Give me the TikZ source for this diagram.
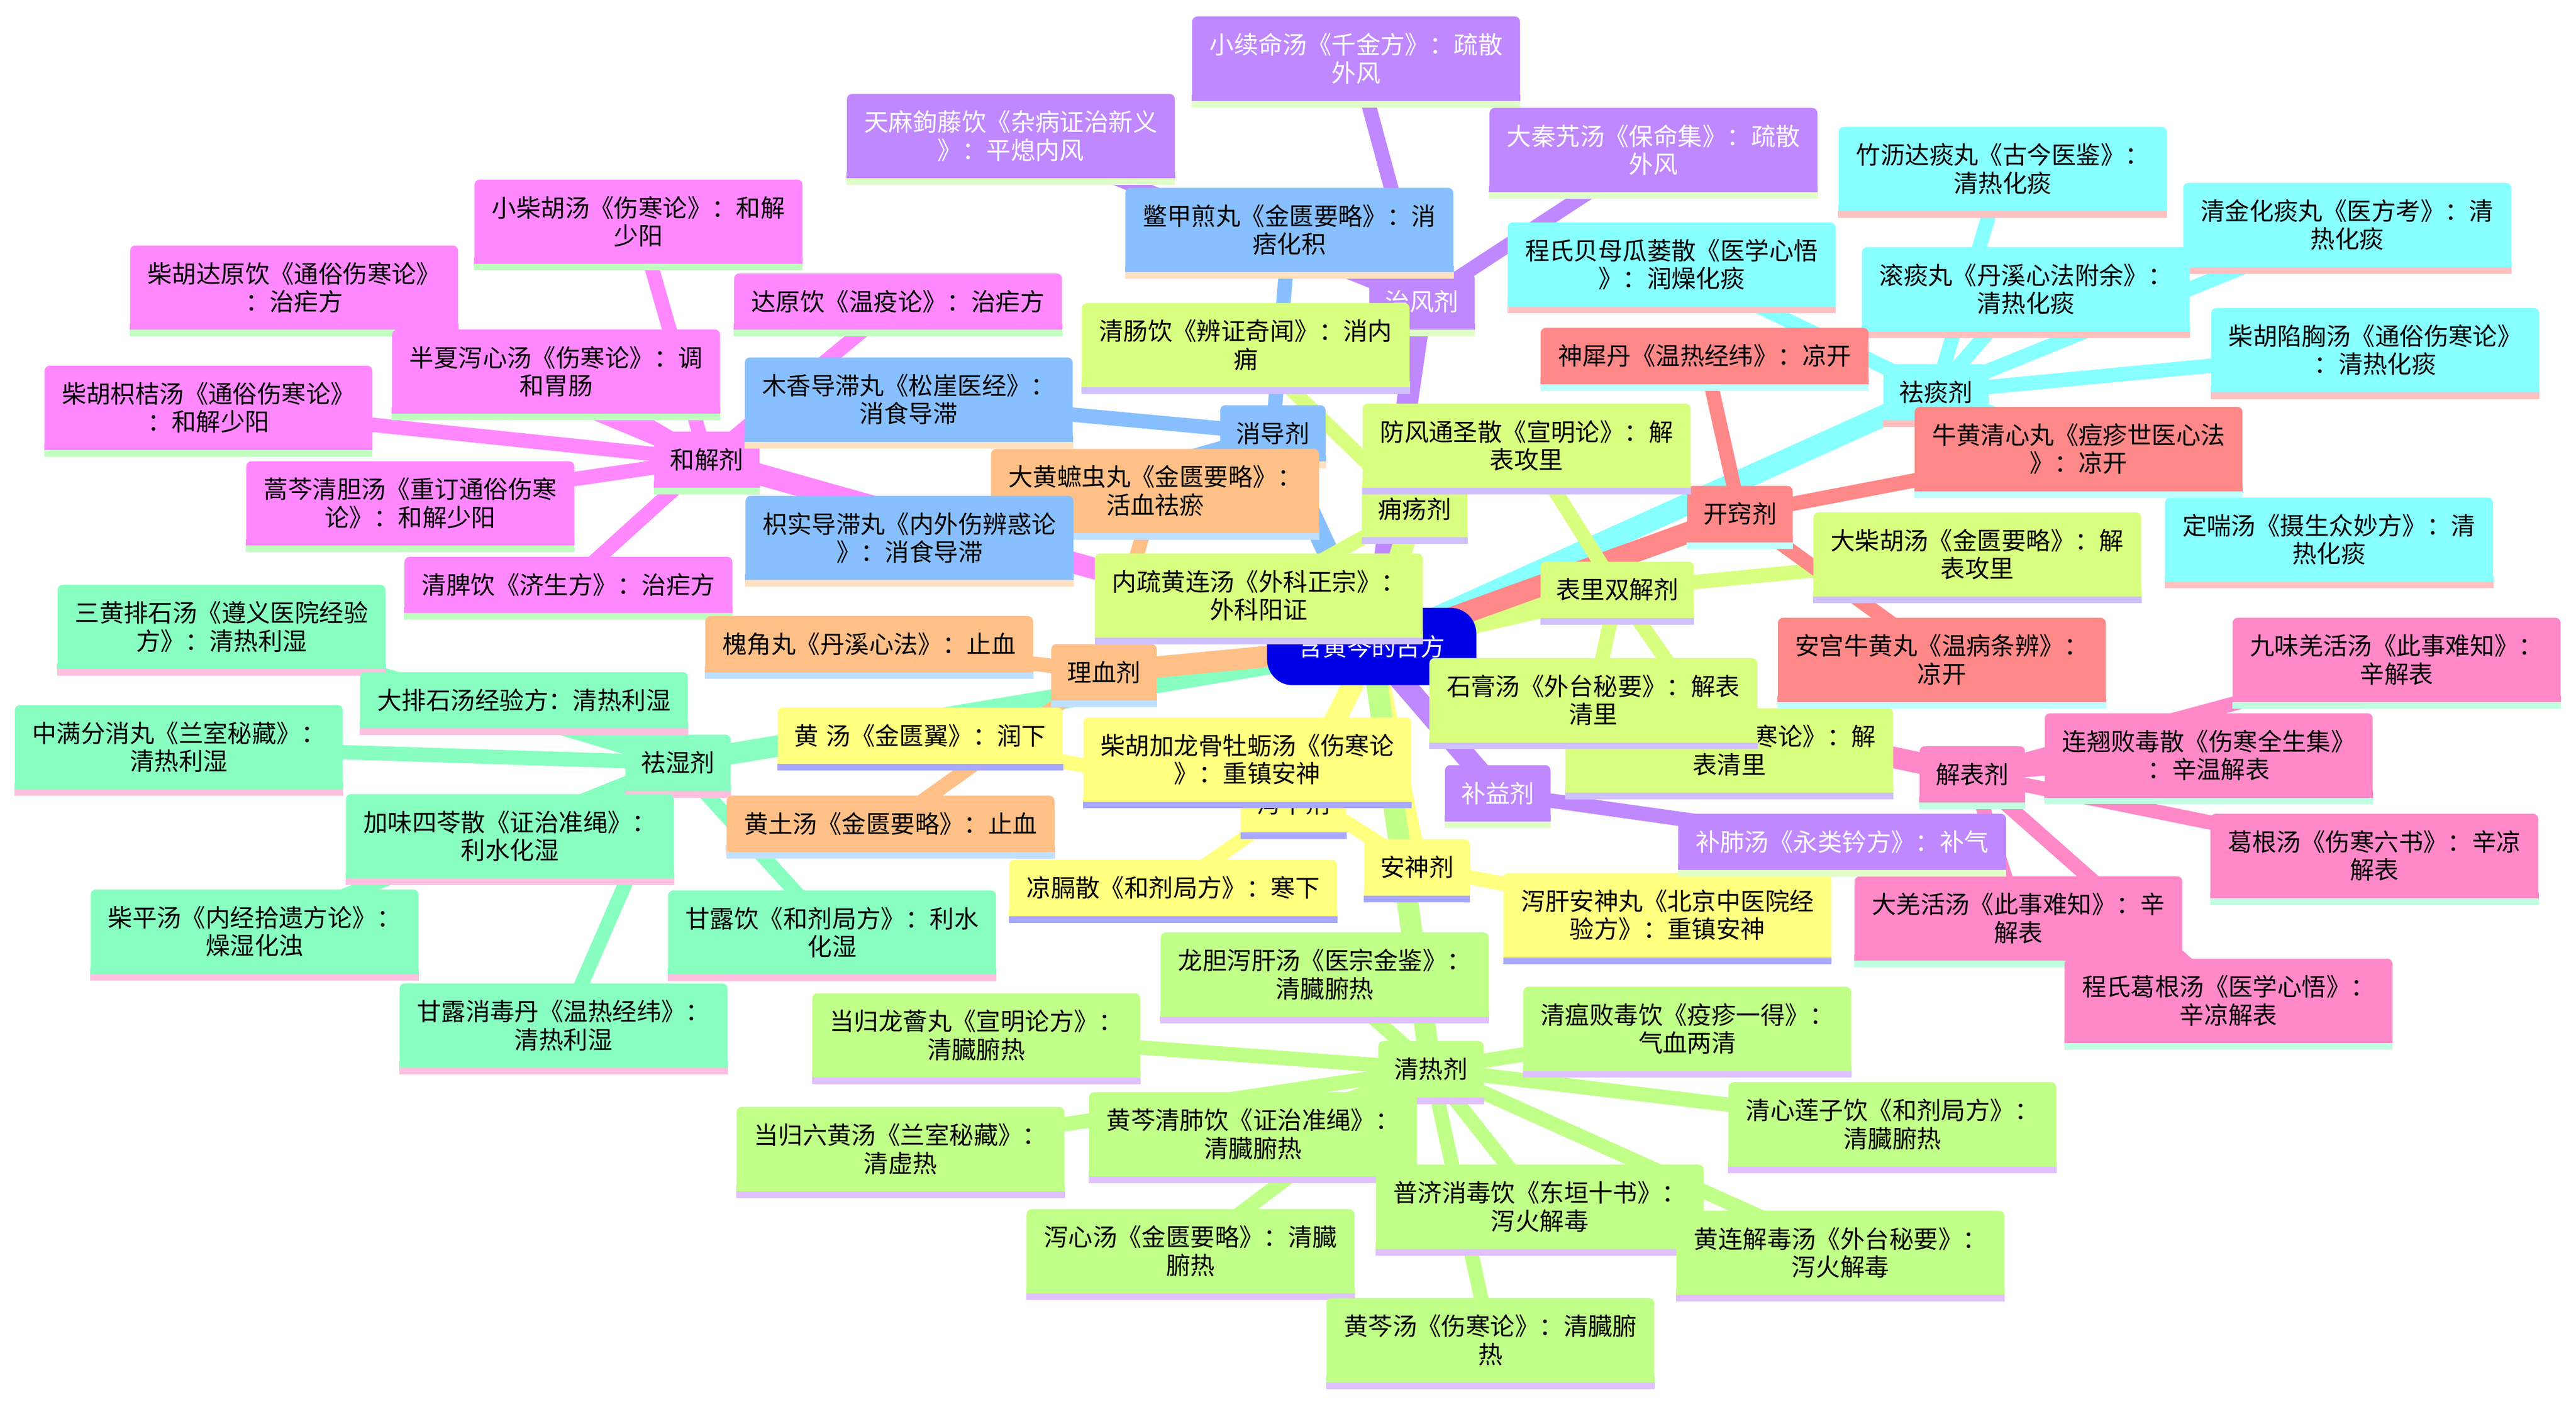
\documentclass[tikz,border=0pt]{standalone}
\usepackage{fontspec}
\setmainfont{Noto Sans CJK SC}
\pgfdeclarelayer{bg}
\pgfsetlayers{bg,main}
\definecolor{cRoot}{HTML}{0000E6}
\definecolor{cFeng}{HTML}{C088FF}\definecolor{sFeng}{HTML}{E0FFC8}
\definecolor{cXiao}{HTML}{88C0FF}\definecolor{sXiao}{HTML}{FFE0C0}
\definecolor{cHejie}{HTML}{FF88FF}\definecolor{sHejie}{HTML}{C0FFC0}
\definecolor{cShi}{HTML}{88FFC0}\definecolor{sShi}{HTML}{FFC0E0}
\definecolor{cXue}{HTML}{FFC088}\definecolor{sXue}{HTML}{C0E0FF}
\definecolor{cXia}{HTML}{FFFF80}\definecolor{sXia}{HTML}{A8A8FF}
\definecolor{cYong}{HTML}{D8FF80}\definecolor{sYong}{HTML}{D0C0FF}
\definecolor{cQing}{HTML}{C0FF88}\definecolor{sQing}{HTML}{E0C0FF}
\definecolor{cTan}{HTML}{88FFFF}\definecolor{sTan}{HTML}{FFC0C0}
\definecolor{cQiao}{HTML}{FF8888}\definecolor{sQiao}{HTML}{C0FFFF}
\definecolor{cBiao}{HTML}{FF88C8}\definecolor{sBiao}{HTML}{C0FFE0}
\tikzset{
  box/.style 2 args={rectangle, rounded corners=1mm, fill=#1,
    append after command={\pgfextra{
      \fill[#1, sharp corners] (\tikzlastnode.south west) rectangle ([yshift=1.2mm]\tikzlastnode.south east);
      \fill[#2, sharp corners] (\tikzlastnode.south west) rectangle ([yshift=-1.28mm]\tikzlastnode.south east);}}},
  leaf/.style={minimum width=63.68mm, minimum height=16.32mm},
  one/.style={minimum width=63.68mm, minimum height=10.88mm},
  cat/.style={minimum width=20.48mm, minimum height=10.88mm},
  feng/.style={box={cFeng}{sFeng}, text=white},
  xiao/.style={box={cXiao}{sXiao}},
  hejie/.style={box={cHejie}{sHejie}},
  shi/.style={box={cShi}{sShi}},
  xue/.style={box={cXue}{sXue}},
  xia/.style={box={cXia}{sXia}},
  yong/.style={box={cYong}{sYong}},
  qing/.style={box={cQing}{sQing}},
  tan/.style={box={cTan}{sTan}},
  qiao/.style={box={cQiao}{sQiao}},
  biao/.style={box={cBiao}{sBiao}},
  trunk/.style={draw=#1, line width=4.16mm},
  twig/.style={draw=#1, line width=2.8mm},
}
\begin{document}
\begin{tikzpicture}[x=0.32mm, y=-0.32mm,
  every node/.style={inner sep=0pt, align=center, font=\fontsize{13.5pt}{15.5pt}\selectfont}]
\node[fill=cRoot, text=white, rounded corners=5mm, minimum width=40.64mm, minimum height=15.04mm] (root) at (832.5,392.5) {含黄芩的古方};

\node[feng, cat] (zhifengji) at (863,183) {治风剂};
\node[xiao, cat] (xiaodaoji) at (772.5,263) {消导剂};
\node[hejie, cat] (hejieji) at (429,279) {和解剂};
\node[shi, cat] (qushiji) at (411.5,463) {祛湿剂};
\node[xue, cat] (lixueji) at (670,408) {理血剂};
\node[xia, cat] (xiexiaji) at (785,488) {泻下剂};
\node[xia, cat] (anshenji) at (860,526.5) {安神剂};
\node[yong, cat] (yongyangji) at (858.5,309) {痈疡剂};
\node[yong, cat, minimum width=29.76mm] (biaoliji) at (981.5,358) {表里双解剂};
\node[qing, cat] (qingreji) at (868.5,649) {清热剂};
\node[tan, cat] (qutanji) at (1175,238) {祛痰剂};
\node[qiao, cat] (kaiqiaoji) at (1056,312) {开窍剂};
\node[biao, cat] (jiebiaoji) at (1197,470) {解表剂};
\node[feng, cat] (buyiji) at (909,481.5) {补益剂};

\node[feng, leaf] (xiaoxuming) at (823,35.5) {小续命汤《千金方》：疏散\\外风};
\node[feng, leaf] (tianma) at (613.5,82.5) {天麻鉤藤饮《杂病证治新义\\》：平熄内风};
\node[feng, leaf] (daqinjiao) at (1003.5,91) {大秦艽汤《保命集》：疏散\\外风};
\node[xiao, leaf] (biejia) at (782.5,139.5) {鳖甲煎丸《金匮要略》：消\\痞化积};
\node[xiao, leaf] (muxiang) at (551.5,242.5) {木香导滞丸《松崖医经》：\\消食导滞};
\node[xue, leaf] (dahuang) at (701,298) {大黄蟅虫丸《金匮要略》：\\活血祛瘀};
\node[xiao, leaf] (zhishi) at (552,326.5) {枳实导滞丸《内外伤辨惑论\\》：消食导滞};
\node[hejie, leaf] (xiaochaihu) at (387.5,134.5) {小柴胡汤《伤寒论》：和解\\少阳};
\node[hejie, leaf] (chaihudayuan) at (178.5,174.5) {柴胡达原饮《通俗伤寒论》\\：治疟方};
\node[hejie, leaf] (banxia) at (337.5,225.5) {半夏泻心汤《伤寒论》：调\\和胃肠};
\node[hejie, leaf] (chaihuzhijie) at (126.5,247.5) {柴胡枳桔汤《通俗伤寒论》\\：和解少阳};
\node[hejie, leaf] (haoqin) at (249,305.5) {蒿芩清胆汤《重订通俗伤寒\\论》：和解少阳};
\node[hejie, one] (qingpi) at (345,355) {清脾饮《济生方》：治疟方};
\node[hejie, one] (dayuan) at (545,183) {达原饮《温疫论》：治疟方};
\node[shi, leaf] (sanhuang) at (134.5,380.5) {三黄排石汤《遵义医院经验\\方》：清热利湿};
\node[shi, one] (dapaishi) at (318,425) {大排石汤经验方：清热利湿};
\node[shi, leaf] (zhongman) at (108.5,453.5) {中满分消丸《兰室秘藏》：\\清热利湿};
\node[shi, leaf] (jiawei) at (309.5,507.5) {加味四苓散《证治准绳》：\\利水化湿};
\node[shi, leaf] (chaiping) at (154.5,565.5) {柴平汤《内经拾遗方论》：\\燥湿化浊};
\node[shi, leaf] (ganluyin) at (505,566) {甘露饮《和剂局方》：利水\\化湿};
\node[shi, leaf] (ganluxiaodu) at (342,622.5) {甘露消毒丹《温热经纬》：\\清热利湿};
\node[xue, one] (huaijiao) at (527.5,391) {槐角丸《丹溪心法》：止血};
\node[xue, one] (huangtu) at (540.5,500) {黄土汤《金匮要略》：止血};
\node[xia, one, minimum width=55.36mm] (huangtang) at (558.5,446.5) {黄\hspace{0.3em}汤《金匮翼》：润下};
\node[xia, one] (liangge) at (712,539) {凉膈散《和剂局方》：寒下};
\node[xia, leaf] (chaihulonggu) at (757,461) {柴胡加龙骨牡蛎汤《伤寒论\\》：重镇安神};
\node[xia, leaf] (xiegan) at (1012,555.5) {泻肝安神丸《北京中医院经\\验方》：重镇安神};
\node[yong, leaf] (neishu) at (764,361.5) {内疏黄连汤《外科正宗》：\\外科阳证};
\node[yong, leaf] (qingchang) at (756,209.5) {清肠饮《辨证奇闻》：消内\\痈};
\node[yong, leaf] (fangfeng) at (926.5,270.5) {防风通圣散《宣明论》：解\\表攻里};
\node[yong, leaf] (dachaihu) at (1200,336.5) {大柴胡汤《金匮要略》：解\\表攻里};
\node[yong, leaf] (gegenqinlian) at (1049.5,455.5) {葛根芩连汤《伤寒论》：解\\表清里};
\node[yong, leaf] (shigao) at (967,425) {石膏汤《外台秘要》：解表\\清里};
\node[qing, leaf] (longdan) at (804,591.5) {龙胆泻肝汤《医宗金鉴》：\\清臓腑热};
\node[qing, leaf] (longhui) at (592.5,628.5) {当归龙薈丸《宣明论方》：\\清臓腑热};
\node[qing, leaf] (qingwen) at (1024,624.5) {清瘟败毒饮《疫疹一得》：\\气血两清};
\node[qing, leaf] (qingxin) at (1148.5,682.5) {清心莲子饮《和剂局方》：\\清臓腑热};
\node[qing, leaf] (liuhuang) at (546.5,697.5) {当归六黄汤《兰室秘藏》：\\清虚热};
\node[qing, leaf] (qingfei) at (760.5,688.5) {黄芩清肺饮《证治准绳》：\\清臓腑热};
\node[qing, leaf] (puji) at (934.5,732.5) {普济消毒饮《东垣十书》：\\泻火解毒};
\node[qing, leaf] (xiexin) at (722.5,759.5) {泻心汤《金匮要略》：清臓\\腑热};
\node[qing, leaf] (huanglian) at (1117,760.5) {黄连解毒汤《外台秘要》：\\泻火解毒};
\node[qing, leaf] (huangqin) at (904.5,813.5) {黄芩汤《伤寒论》：清臓腑\\热};
\node[tan, leaf] (zhuli) at (1215.5,102.5) {竹沥达痰丸《古今医鉴》：\\清热化痰};
\node[tan, leaf] (qingjin) at (1424.5,136.5) {清金化痰丸《医方考》：清\\热化痰};
\node[tan, leaf] (guntan) at (1229.5,175.5) {滚痰丸《丹溪心法附余》：\\清热化痰};
\node[tan, leaf] (xianxiong) at (1441.5,212.5) {柴胡陷胸汤《通俗伤寒论》\\：清热化痰};
\node[tan, leaf] (dingchuan) at (1413.5,327.5) {定喘汤《摄生众妙方》：清\\热化痰};
\node[tan, leaf] (beimu) at (1014.5,160.5) {程氏贝母瓜蒌散《医学心悟\\》：润燥化痰};
\node[qiao, one] (shenxi) at (1034.5,216) {神犀丹《温热经纬》：凉开};
\node[qiao, leaf] (niuhuang) at (1261.5,272.5) {牛黄清心丸《痘疹世医心法\\》：凉开};
\node[qiao, leaf] (angong) at (1178.5,400.5) {安宫牛黄丸《温病条辨》：\\凉开};
\node[biao, leaf] (jiuwei) at (1454.5,400.5) {九味羌活汤《此事难知》：\\辛解表};
\node[biao, leaf] (lianqiao) at (1340.5,458.5) {连翘败毒散《伤寒全生集》\\：辛温解表};
\node[biao, leaf] (gegen) at (1441,519.5) {葛根汤《伤寒六书》：辛凉\\解表};
\node[biao, leaf] (daqianghuo) at (1225,557.5) {大羌活汤《此事难知》：辛\\解表};
\node[biao, leaf] (chenggegen) at (1352.5,607.5) {程氏葛根汤《医学心悟》：\\辛凉解表};
\node[feng, one] (bufei) at (1118,511) {补肺汤《永类钤方》：补气};

\begin{pgfonlayer}{bg}
\path[use as bounding box, fill=white] (0,0) rectangle (1563.4,850.9);
\foreach \a/\k in {zhifengji/cFeng, xiaodaoji/cXiao, hejieji/cHejie, qushiji/cShi, lixueji/cXue,
    xiexiaji/cXia, anshenji/cXia, yongyangji/cYong, biaoliji/cYong, qingreji/cQing,
    qutanji/cTan, kaiqiaoji/cQiao, jiebiaoji/cBiao, buyiji/cFeng}
  \draw[trunk=\k] (root.center) -- (\a.center);
\foreach \a in {xiaoxuming, tianma, daqinjiao}
  \draw[twig=cFeng] (zhifengji.center) -- (\a.center);
\foreach \a in {biejia, muxiang, zhishi}
  \draw[twig=cXiao] (xiaodaoji.center) -- (\a.center);
\foreach \a in {xiaochaihu, chaihudayuan, banxia, chaihuzhijie, haoqin, qingpi, dayuan}
  \draw[twig=cHejie] (hejieji.center) -- (\a.center);
\foreach \a in {sanhuang, dapaishi, zhongman, jiawei, chaiping, ganluyin, ganluxiaodu}
  \draw[twig=cShi] (qushiji.center) -- (\a.center);
\foreach \a in {huaijiao, huangtu, dahuang}
  \draw[twig=cXue] (lixueji.center) -- (\a.center);
\foreach \a in {huangtang, liangge}
  \draw[twig=cXia] (xiexiaji.center) -- (\a.center);
\foreach \a in {chaihulonggu, xiegan}
  \draw[twig=cXia] (anshenji.center) -- (\a.center);
\foreach \a in {neishu, qingchang}
  \draw[twig=cYong] (yongyangji.center) -- (\a.center);
\foreach \a in {fangfeng, dachaihu, gegenqinlian, shigao}
  \draw[twig=cYong] (biaoliji.center) -- (\a.center);
\foreach \a in {longdan, longhui, qingwen, qingxin, liuhuang, qingfei, puji, xiexin, huanglian, huangqin}
  \draw[twig=cQing] (qingreji.center) -- (\a.center);
\foreach \a in {zhuli, qingjin, guntan, xianxiong, dingchuan, beimu}
  \draw[twig=cTan] (qutanji.center) -- (\a.center);
\foreach \a in {shenxi, niuhuang, angong}
  \draw[twig=cQiao] (kaiqiaoji.center) -- (\a.center);
\foreach \a in {jiuwei, lianqiao, gegen, daqianghuo, chenggegen}
  \draw[twig=cBiao] (jiebiaoji.center) -- (\a.center);
\draw[twig=cFeng] (buyiji.center) -- (bufei.center);
\end{pgfonlayer}
\end{tikzpicture}
\end{document}
